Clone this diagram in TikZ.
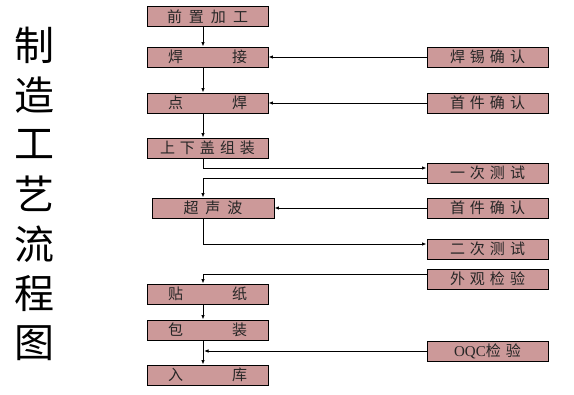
\documentclass[tikz,border=0pt]{standalone}
\usepackage{fontspec}
\setmainfont{Liberation Serif}
\newfontfamily\cjk{Noto Sans CJK SC}
\usetikzlibrary{arrows.meta}
\definecolor{boxpink}{RGB}{204,153,153}
\newcommand\gapS{\hspace{5pt}}
\newcommand\gapL{\hspace{49pt}}
\tikzset{
  stepbox/.style={draw=black, line width=0.9pt, fill=boxpink, minimum width=121pt, minimum height=20pt, inner sep=0pt, font=\cjk\fontsize{15}{15}\selectfont, text=black!85},
  arr/.style={-{Latex[length=4.5pt,width=3.5pt]}, line width=0.9pt},
  title/.style={font=\cjk\fontsize{40}{40}\selectfont, inner sep=0pt}
}
\begin{document}
\begin{tikzpicture}[x=1pt,y=-1pt]
\useasboundingbox (0,0) rectangle (574,395);
% title
\foreach \c [count=\i from 0] in {制,造,工,艺,流,程,图}{
  \node[title] (t\i) at (35,{45+49.7*\i}) {\c};
}
\coordinate (spine) at (203,0);
% main column
\node[stepbox] (a1) at (207.5,16.5) {前\hspace{7pt}置\hspace{7pt}加\hspace{7pt}工};
\node[stepbox] (a2) at (207.5,57) {焊\gapL 接};
\node[stepbox] (a3) at (207.5,103) {点\gapL 焊};
\node[stepbox] (a4) at (207.5,148) {上\gapS 下\gapS 盖\gapS 组\gapS 装};
\node[stepbox, minimum width=122pt] (a5) at (213,208) {超\hspace{7pt}声\hspace{7pt}波};
\node[stepbox] (a6) at (207.5,294) {贴\gapL 纸};
\node[stepbox] (a7) at (207.5,330) {包\gapL 装};
\node[stepbox] (a8) at (207.5,375) {入\gapL 库};
% right column
\node[stepbox] (b1) at (487.5,57) {焊\gapS 锡\gapS 确\gapS 认};
\node[stepbox] (b2) at (487.5,103) {首\gapS 件\gapS 确\gapS 认};
\node[stepbox] (b3) at (487.5,173) {一\gapS 次\gapS 测\gapS 试};
\node[stepbox] (b4) at (487.5,208) {首\gapS 件\gapS 确\gapS 认};
\node[stepbox] (b5) at (487.5,249) {二\gapS 次\gapS 测\gapS 试};
\node[stepbox] (b6) at (487.5,279) {外\gapS 观\gapS 检\gapS 验};
\node[stepbox] (b7) at (487.5,351) {{\fontspec{Liberation Serif}OQC}检\gapS 验};
% connectors
\draw[arr] (a1.south -| spine) -- (a2.north -| spine);
\draw[arr] (a2.south -| spine) -- (a3.north -| spine);
\draw[arr] (a3.south -| spine) -- (a4.north -| spine);
\draw[arr] (a4.south -| spine) |- ([yshift=5pt]b3.west);
\draw[arr] ([yshift=-5pt]b3.west) -| (a5.north -| spine);
\draw[arr] (a5.south -| spine) |- ([yshift=5pt]b5.west);
\draw[arr] ([yshift=5pt]b6.west) -| (a6.north -| spine);
\draw[arr] (a6.south -| spine) -- (a7.north -| spine);
\draw[arr] (a7.south -| spine) -- (a8.north -| spine);
\draw[arr] (b7.west) -- ([xshift=1pt]b7.west -| spine);
\draw[arr] (b1.west) -- (a2.east);
\draw[arr] (b2.west) -- (a3.east);
\draw[arr] (b4.west) -- (a5.east);
\end{tikzpicture}
\end{document}
